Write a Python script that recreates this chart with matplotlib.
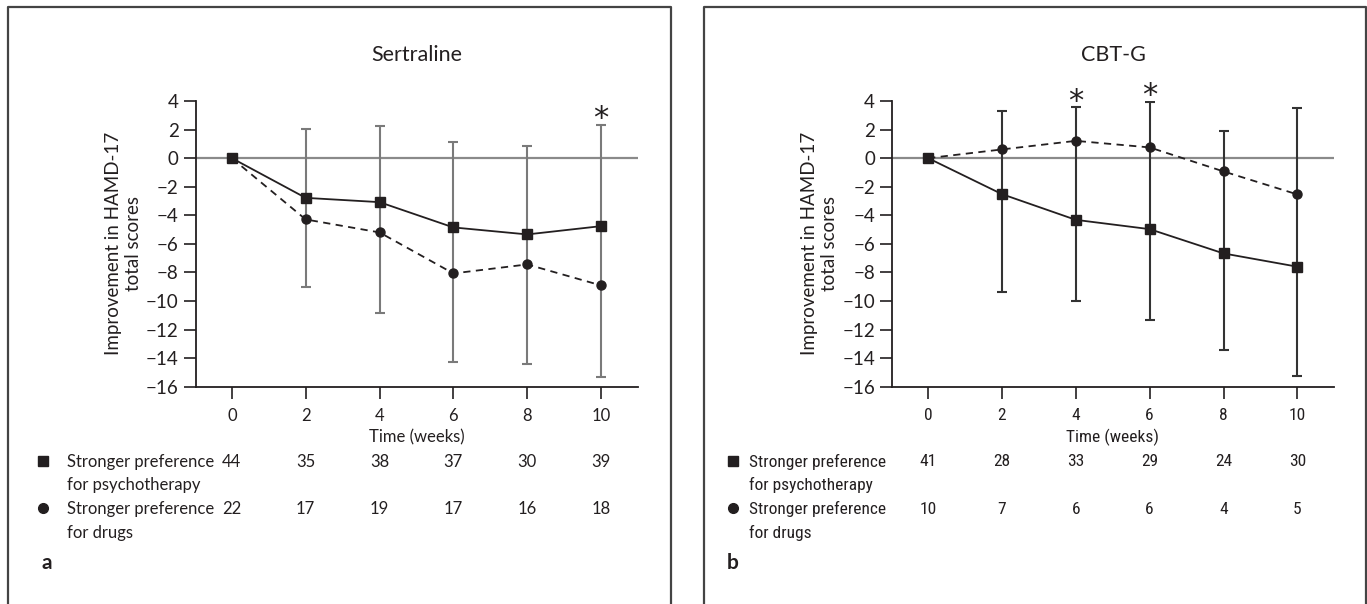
import matplotlib
matplotlib.use("Agg")
import matplotlib.pyplot as plt
import numpy as np
from matplotlib.lines import Line2D
from matplotlib.transforms import blended_transform_factory
from matplotlib import font_manager

plt.rcParams['font.family'] = ['Lato', 'DejaVu Sans']
_names = {f.name for f in font_manager.fontManager.ttflist}
NARROW = None
for cand in ['Roboto Condensed', 'Open Sans Condensed', 'Liberation Sans Narrow',
             'Noto Sans Condensed', 'DejaVu Sans Condensed', 'Lato Condensed']:
    if cand in _names:
        NARROW = cand
        break

# ---------------- data ----------------
weeks = [0, 2, 4, 6, 8, 10]
xticks = [0, 2, 4, 6, 8, 10]
yticks = [4, 2, 0, -2, -4, -6, -8, -10, -12, -14, -16]

# Sertraline
sert_psy_mean = [0, -2.78, -3.08, -4.85, -5.34, -4.76]
sert_psy_sd_up = [0, 4.83, 5.32, 5.95, 6.2, 7.09]
sert_drug_mean = [0, -4.29, -5.2, -8.07, -7.44, -8.91]
sert_drug_sd_down = [0, 4.71, 5.62, 6.2, 6.96, 6.39]
sert_n_psy = [44, 35, 38, 37, 30, 39]
sert_n_drug = [22, 17, 19, 17, 16, 18]
sert_signif = [10]

# CBT-G
cbt_psy_mean = [0, -2.52, -4.32, -4.97, -6.67, -7.6]
cbt_psy_sd_down = [0, 6.88, 5.71, 6.37, 6.74, 7.66]
cbt_drug_mean = [0, 0.61, 1.21, 0.75, -0.93, -2.54]
cbt_drug_sd_up = [0, 2.7, 2.34, 3.19, 2.8, 6.04]
cbt_n_psy = [41, 28, 33, 29, 24, 30]
cbt_n_drug = [10, 7, 6, 6, 4, 5]
cbt_signif = [4, 6]

row_psy = ["Stronger preference", "for psychotherapy"]
row_drug = ["Stronger preference", "for drugs"]

W, H = 1367, 604
fig = plt.figure(figsize=(W / 100, H / 100), dpi=100)

def fy(p):
    return 1 - p / H

def fx(p):
    return p / W

TXT = '#231f20'

def panel(ax_left_px, box, title, psy_mean, drug_mean, top_cap_series, bottom_cap_series,
          err_color, n_psy, n_drug, signif, letter, row_fam, row_size, marker_x, text_x, letter_x):
    ax = fig.add_axes([fx(ax_left_px), fy(386.7), fx(442), 285.7 / H])
    x = np.array(weeks, dtype=float)
    upper = np.array(top_cap_series)
    lower = np.array(bottom_cap_series)
    pm = np.array(psy_mean)
    mask = x > 0
    ax.axhline(0, color='#8a8a8a', lw=1.6, zorder=1)
    ax.errorbar(x[mask], pm[mask], yerr=[pm[mask] - lower[mask], upper[mask] - pm[mask]],
                fmt='none', ecolor=err_color, elinewidth=1.5, capsize=3.5, capthick=1.5, zorder=2)
    ax.plot(x, pm, color=TXT, lw=1.3, marker='s', markersize=7.5, zorder=4)
    ax.plot(x, drug_mean, color=TXT, lw=1.3, ls=(0, (4, 3)), marker='o', markersize=6.5, zorder=4)
    for s in signif:
        i = weeks.index(s)
        ax.annotate('*', (x[i], upper[i]), xytext=(0, -1.5), textcoords='offset points',
                    ha='center', va='baseline', fontsize=22, color=TXT, family='DejaVu Sans')
    ax.set_xlim(-0.97, 11)
    ax.set_ylim(-16, 4)
    ax.set_xticks(xticks)
    ax.set_yticks(yticks)
    ax.set_yticklabels([str(v).replace('-', '\u2212') for v in yticks])
    ax.set_xticklabels([])
    for sp in ['top', 'right']:
        ax.spines[sp].set_visible(False)
    for sp in ['left', 'bottom']:
        ax.spines[sp].set_color(TXT)
        ax.spines[sp].set_linewidth(1.3)
    ax.tick_params(axis='both', direction='out', length=8.5, width=1.2, color=TXT,
                   labelsize=13.5, labelcolor=TXT)
    ax.tick_params(axis='y', pad=4)
    ax.set_ylabel("Improvement in HAMD-17\ntotal scores", fontsize=13.5, color=TXT,
                  linespacing=1.2, labelpad=3)
    ax.set_title(title, fontsize=15.5, color=TXT, pad=0, y=1 + (101 - 55) / 285.7, va='center')

    tr = blended_transform_factory(ax.transData, fig.transFigure)
    kw = dict(fontsize=row_size, color=TXT, family=row_fam)
    for xv in xticks:
        ax.text(xv, fy(416), str(xv), transform=tr, ha='center', va='center', **kw)
    ax.text(5, fy(437), "Time (weeks)", transform=tr, ha='center', va='center', **kw)
    for xv, n in zip(weeks, n_psy):
        ax.text(xv, fy(461.7), str(n), transform=tr, ha='center', va='center', **kw)
    for xv, n in zip(weeks, n_drug):
        ax.text(xv, fy(509), str(n), transform=tr, ha='center', va='center', **kw)
    for line, yp in zip(row_psy, [461.7, 485]):
        fig.text(fx(text_x), fy(yp), line, ha='left', va='center', **kw)
    for line, yp in zip(row_drug, [509, 532.7]):
        fig.text(fx(text_x), fy(yp), line, ha='left', va='center', **kw)
    fig.add_artist(Line2D([fx(marker_x)], [fy(460.5)], marker='s', markersize=7.5, color=TXT,
                          transform=fig.transFigure))
    fig.add_artist(Line2D([fx(marker_x)], [fy(508)], marker='o', markersize=7, color=TXT,
                          transform=fig.transFigure))
    fig.text(fx(letter_x), fy(563), letter, ha='center', va='center', fontsize=15,
             fontweight='bold', color=TXT)
    # panel border
    l, t, r = box
    fig.add_artist(Line2D([fx(l), fx(l), fx(r), fx(r)], [0, fy(7), fy(7), 0],
                          color='#444444', lw=1.6, transform=fig.transFigure))
    return ax


sert_top = list(np.array(sert_psy_mean) + np.array(sert_psy_sd_up))
sert_bottom = list(np.array(sert_drug_mean) - np.array(sert_drug_sd_down))
cbt_top = list(np.array(cbt_drug_mean) + np.array(cbt_drug_sd_up))
cbt_bottom = list(np.array(cbt_psy_mean) - np.array(cbt_psy_sd_down))

panel(196, (8, 7, 671), "Sertraline", sert_psy_mean, sert_drug_mean, sert_top, sert_bottom,
      '#7a7a7a', sert_n_psy, sert_n_drug, sert_signif, 'a', ['Lato'], 12, 43, 66.7, 46.7)
panel(892.3, (704, 7, 1366), "CBT-G", cbt_psy_mean, cbt_drug_mean, cbt_top, cbt_bottom,
      '#333333', cbt_n_psy, cbt_n_drug, cbt_signif, 'b',
      [NARROW] if NARROW else ['Lato'], 12.5 if NARROW else 11,
      732.7, 749.3, 733)

fig.savefig("out.png", dpi=100)
